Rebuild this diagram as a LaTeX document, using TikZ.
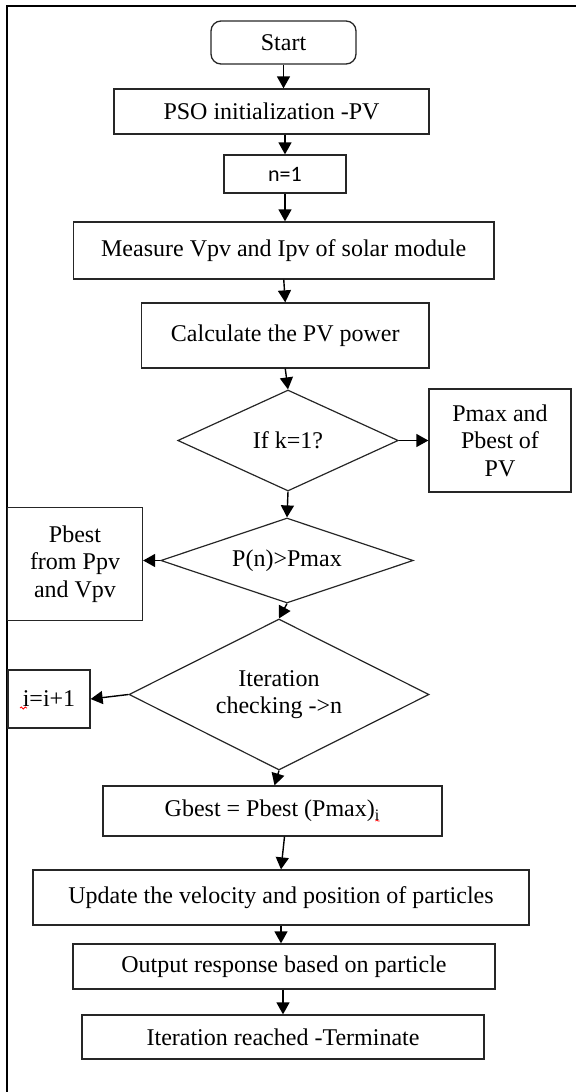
\documentclass[tikz,border=0pt]{standalone}
\usepackage{fontspec}
\setmainfont{Liberation Serif}
\newfontfamily\carlito{Carlito}
\usetikzlibrary{arrows.meta,%
		calc,%
		decorations.pathmorphing,%
		shapes.geometric}

\begin{document}
\begin{tikzpicture}[x=0.5pt,y=-0.5pt,font=\fontsize{12}{13.8}\selectfont,
	box/.style={draw=black!85,line width=0.65pt,inner sep=0pt,align=center},
	decision/.style={diamond,draw=black!85,line width=0.6pt,inner sep=0pt,align=center},
	flow/.style={-{Triangle[length=6pt,width=6.5pt]},line width=0.7pt},
	squiggle/.style={red,line width=0.4pt,decorate,decoration={snake,amplitude=0.5pt,segment length=2pt}}]
\useasboundingbox (0,0) rectangle (576,1092);
%cornice
\draw[line width=1pt] (7,1092) -- (7,6) -- (576,6);

%blocchi in colonna
\node[box,rounded corners=5pt,minimum width=72.5pt,minimum height=21.5pt] (start) at (283.5,42.5) {Start};
\node[box,minimum width=157.5pt,minimum height=22.5pt] (pso) at (271.5,111.5) {PSO initialization -PV};
\node[box,minimum width=61pt,minimum height=19pt,font=\carlito\fontsize{11}{13}\selectfont] (n1) at (285,174) {n=1};
\node[box,minimum width=210.25pt,minimum height=28.5pt] (measure) at (283.75,250.5) {Measure Vpv and Ipv of solar module};
\node[box,minimum width=143.75pt,minimum height=32.5pt] (calc) at (285.25,335.5) {Calculate the PV power};

%decisioni
\node[decision,aspect=2.18,minimum width=110.25pt,minimum height=50.5pt] (ifk) at (288,440.5) {If k=1?};
\node[box,minimum width=71pt,minimum height=51.5pt] (pmax) at (500,440.5) {Pmax and\\Pbest of\\PV};
\node[decision,aspect=2.97,minimum width=126.25pt,minimum height=42.5pt] (pn) at (287,560.5) {P(n)>Pmax};
\node[box,minimum width=67.5pt,minimum height=56.5pt] (pbest) at (75,564) {Pbest\\from Ppv\\and Vpv};
\node[decision,aspect=1.99,minimum width=150pt,minimum height=75.5pt] (iter) at (279,694.5) {Iteration\\checking -{}>n};
\node[box,minimum width=41pt,minimum height=29pt] (inc) at (49,699) {i=i+1};

%parte finale
\node[box,minimum width=169.5pt,minimum height=25pt] (gbest) at (272.5,811) {Gbest = Pbest (Pmax)\textsubscript{i}};
\node[box,minimum width=248pt,minimum height=27.5pt] (update) at (281,897.5) {Update the velocity and position of particles};
\node[box,minimum width=211pt,minimum height=22.5pt] (output) at (284,966.5) {Output response based on particle};
\node[box,minimum width=201pt,minimum height=22pt] (term) at (283,1037) {Iteration reached -Terminate};

%frecce
\draw[flow] (start.south) -- (start.south |- pso.north);
\draw[flow] (n1.north |- pso.south) -- (n1.north);
\draw[flow] (n1.south) -- (n1.south |- measure.north);
\draw[flow] (measure.south) -- (calc.north);
\draw[flow] (calc.south) -- (ifk.north);
\draw[flow] (ifk.east) -- (pmax.west);
\draw[flow] (ifk.south) -- (pn.north);
\draw[flow] (pn.west) -- (pn.west -| pbest.east);
\draw[flow] (pn.south) -- (iter.north);
\draw[flow] (iter.west) -- (inc.east);
\draw[flow] (iter.south) -- ([xshift=1pt]gbest.north);
\draw[flow] ([xshift=6pt]gbest.south) -- (update.north);
\draw[flow] (update.south) -- (update.south |- output.north);
\draw[flow] (term.north |- output.south) -- (term.north);

%segni rossi
\draw[squiggle] ([xshift=-14.5pt,yshift=-4.5pt]inc.center) -- ++(7,0);
\draw[squiggle] ([xshift=51.5pt,yshift=-5pt]gbest.center) -- ++(4,0);
\end{tikzpicture}
\end{document}
